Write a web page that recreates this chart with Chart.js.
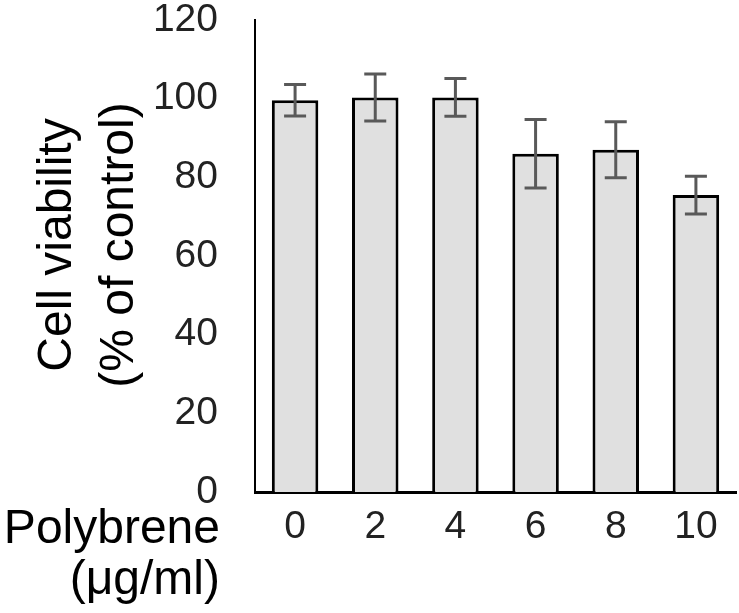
<!DOCTYPE html>
<html>
<head>
<meta charset="utf-8">
<script src="https://cdn.jsdelivr.net/npm/chart.js@4.4.1/dist/chart.umd.min.js"></script>
<style>
  html, body { margin: 0; padding: 0; background: #ffffff; }
  #wrap { width: 739px; height: 613px; position: relative; }
  canvas { display: block; }
</style>
</head>
<body>
<div id="wrap"><canvas id="c" width="739" height="613"></canvas></div>
<script>
// ---- Data ----
const categories = ['0', '2', '4', '6', '8', '10'];
const viability = [99.6, 100.3, 100.3, 86, 87, 75.5];
const errors = [4, 6, 4.8, 8.7, 7.1, 4.8];
const yTitleLines = ['Cell viability', '(% of control)'];
const xTitleLines = ['Polybrene', '(\u03BCg/ml)'];

const FONT = "'Liberation Sans', Arial, Helvetica, sans-serif";

const errorBarPlugin = {
  id: 'errorBars',
  afterDatasetsDraw(chart) {
    const ctx = chart.ctx;
    const meta = chart.getDatasetMeta(0);
    const y = chart.scales.y;
    ctx.save();
    ctx.strokeStyle = '#595959';
    ctx.lineWidth = 3;
    ctx.lineCap = 'butt';
    meta.data.forEach((bar, i) => {
      const v = viability[i], e = errors[i];
      const x = bar.x;
      const yTop = y.getPixelForValue(v + e);
      const yBot = y.getPixelForValue(v - e);
      const cap = 11;
      ctx.beginPath();
      ctx.moveTo(x, yTop); ctx.lineTo(x, yBot);
      ctx.moveTo(x - cap, yTop); ctx.lineTo(x + cap, yTop);
      ctx.moveTo(x - cap, yBot); ctx.lineTo(x + cap, yBot);
      ctx.stroke();
    });
    ctx.restore();
  }
};

const titlesPlugin = {
  id: 'axisTitles',
  afterDraw(chart) {
    const ctx = chart.ctx;
    ctx.save();
    ctx.fillStyle = '#000000';
    ctx.font = '48px ' + FONT;
    ctx.textAlign = 'center';
    ctx.textBaseline = 'alphabetic';
    ctx.translate(0, 245);
    ctx.rotate(-Math.PI / 2);
    ctx.fillText(yTitleLines[0], 0, 71);
    ctx.fillText(yTitleLines[1], 0, 133);
    ctx.restore();
    ctx.save();
    ctx.fillStyle = '#000000';
    ctx.font = '48px ' + FONT;
    ctx.textAlign = 'right';
    ctx.textBaseline = 'alphabetic';
    ctx.fillText(xTitleLines[0], 220, 543);
    ctx.fillText(xTitleLines[1], 220, 594);
    ctx.restore();
  }
};

new Chart(document.getElementById('c'), {
  type: 'bar',
  data: {
    labels: categories,
    datasets: [{
      data: viability,
      backgroundColor: '#e0e0e0',
      borderColor: '#000000',
      borderWidth: 3,
      borderSkipped: 'start',
      barPercentage: 0.58,
      categoryPercentage: 1.0
    }]
  },
  options: {
    responsive: false,
    animation: false,
    devicePixelRatio: 1,
    layout: { padding: { top: 20, right: 3, left: 0, bottom: 0 } },
    plugins: { legend: { display: false }, tooltip: { enabled: false } },
    scales: {
      x: {
        type: 'category',
        offset: true,
        grid: { display: false, drawTicks: false },
        border: { display: true, color: '#000000', width: 3 },
        ticks: { color: '#222222', font: { family: FONT, size: 39, lineHeight: 1 }, padding: 16, maxRotation: 0 },
        afterFit(scale) { scale.height = 121; scale.paddingLeft = 0; scale.paddingRight = 0; }
      },
      y: {
        min: 0, max: 120,
        grid: { display: false, drawTicks: false },
        border: { display: true, color: '#000000', width: 2 },
        ticks: { stepSize: 20, color: '#222222', font: { family: FONT, size: 39, lineHeight: 1 }, padding: 37 },
        afterFit(scale) { scale.width = 255; scale.paddingTop = 0; scale.paddingBottom = 0; }
      }
    }
  },
  plugins: [errorBarPlugin, titlesPlugin]
});
</script>
</body>
</html>
